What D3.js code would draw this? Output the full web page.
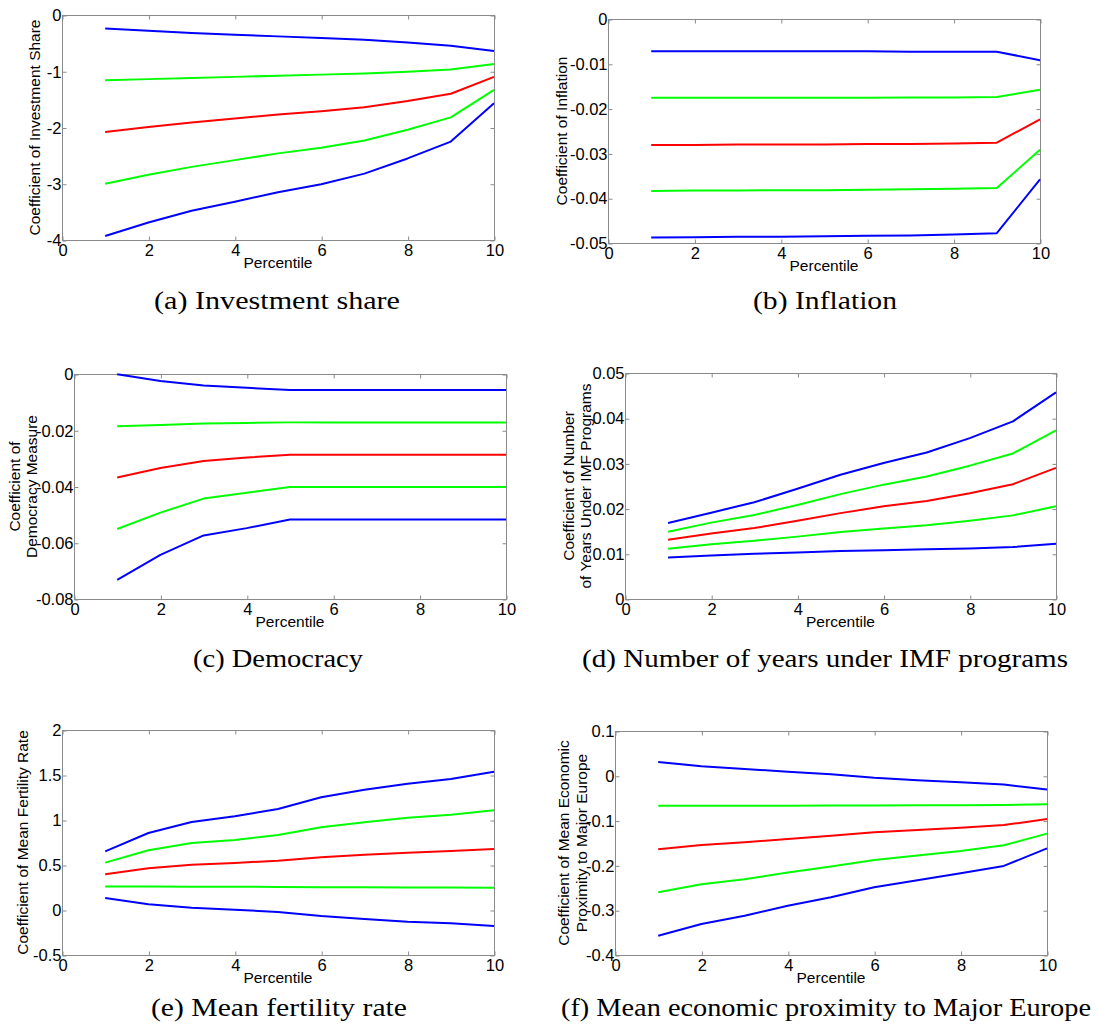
<!DOCTYPE html>
<html><head><meta charset="utf-8">
<script src="https://cdn.jsdelivr.net/npm/d3@7"></script>
<style>body{margin:0;background:#fff}svg{display:block}</style>
</head><body>
<svg id="chart" width="1097" height="1028"></svg>
<script>
// ---------- data ----------
const percentile = [1, 2, 3, 4, 5, 6, 7, 8, 9, 10];
const xTicks = [0, 2, 4, 6, 8, 10];

// (a) Investment share
const investBlueHi  = [-0.24, -0.28, -0.32, -0.35, -0.38, -0.41, -0.44, -0.49, -0.545, -0.64];
const investGreenHi = [-1.16, -1.14, -1.12, -1.10, -1.08, -1.06, -1.04, -1.01, -0.97, -0.87];
const investRed     = [-2.08, -1.99, -1.91, -1.84, -1.77, -1.71, -1.64, -1.53, -1.40, -1.10];
const investGreenLo = [-3.00, -2.84, -2.70, -2.58, -2.46, -2.36, -2.23, -2.04, -1.82, -1.33];
const investBlueLo  = [-3.93, -3.69, -3.48, -3.32, -3.15, -3.01, -2.82, -2.55, -2.25, -1.57];
const investYTicks  = [0, -1, -2, -3, -4];
const investYLabels = ["0", "-1", "-2", "-3", "-4"];

// (b) Inflation
const inflBlueHi  = [-0.0072, -0.0072, -0.0072, -0.0072, -0.0072, -0.0072, -0.0073, -0.0073, -0.0073, -0.0092];
const inflGreenHi = [-0.0176, -0.0176, -0.0176, -0.0176, -0.0176, -0.0176, -0.0175, -0.0175, -0.0174, -0.0158];
const inflRed     = [-0.0281, -0.0281, -0.0280, -0.0280, -0.0280, -0.0279, -0.0279, -0.0278, -0.0276, -0.0224];
const inflGreenLo = [-0.0384, -0.0383, -0.0383, -0.0382, -0.0382, -0.0381, -0.0380, -0.0379, -0.0377, -0.0292];
const inflBlueLo  = [-0.0488, -0.0487, -0.0486, -0.0486, -0.0485, -0.0484, -0.0483, -0.0481, -0.0478, -0.0358];
const inflYTicks  = [0, -0.01, -0.02, -0.03, -0.04, -0.05];
const inflYLabels = ["0", "-0.01", "-0.02", "-0.03", "-0.04", "-0.05"];

// (c) Democracy
const demoBlueHi  = [-0.0001, -0.0025, -0.0041, -0.0049, -0.0057, -0.0057, -0.0057, -0.0057, -0.0057, -0.0057];
const demoGreenHi = [-0.0186, -0.0181, -0.0176, -0.0174, -0.0172, -0.0172, -0.0172, -0.0172, -0.0172, -0.0172];
const demoRed     = [-0.0368, -0.0334, -0.0309, -0.0297, -0.0287, -0.0287, -0.0287, -0.0287, -0.0287, -0.0287];
const demoGreenLo = [-0.0551, -0.0493, -0.0443, -0.0422, -0.0402, -0.0402, -0.0402, -0.0402, -0.0402, -0.0402];
const demoBlueLo  = [-0.0732, -0.0643, -0.0574, -0.0548, -0.0517, -0.0517, -0.0517, -0.0517, -0.0517, -0.0517];
const demoYTicks  = [0, -0.02, -0.04, -0.06, -0.08];
const demoYLabels = ["0", "-0.02", "-0.04", "-0.06", "-0.08"];

// (d) Number of years under IMF programs
const imfBlueHi  = [0.0168, 0.0191, 0.0214, 0.0244, 0.0275, 0.0301, 0.0324, 0.0356, 0.0393, 0.0457];
const imfGreenHi = [0.0149, 0.0169, 0.0186, 0.0208, 0.0232, 0.0253, 0.0271, 0.0295, 0.0322, 0.0373];
const imfRed     = [0.0131, 0.0145, 0.0157, 0.0173, 0.0190, 0.0205, 0.0217, 0.0234, 0.0254, 0.0290];
const imfGreenLo = [0.0111, 0.0121, 0.0129, 0.0138, 0.0148, 0.0156, 0.0163, 0.0173, 0.0185, 0.0205];
const imfBlueLo  = [0.0092, 0.0096, 0.0100, 0.0103, 0.0106, 0.0108, 0.0110, 0.0112, 0.0115, 0.0122];
const imfYTicks  = [0, 0.01, 0.02, 0.03, 0.04, 0.05];
const imfYLabels = ["0", "0.01", "0.02", "0.03", "0.04", "0.05"];

// (e) Mean fertility rate
const fertBlueHi  = [0.652, 0.856, 0.978, 1.041, 1.122, 1.252, 1.337, 1.404, 1.456, 1.537];
const fertGreenHi = [0.526, 0.663, 0.744, 0.778, 0.833, 0.919, 0.974, 1.026, 1.059, 1.107];
const fertRed     = [0.396, 0.463, 0.504, 0.522, 0.548, 0.585, 0.615, 0.637, 0.656, 0.678];
const fertGreenLo = [0.260, 0.260, 0.258, 0.258, 0.256, 0.254, 0.252, 0.250, 0.249, 0.248];
const fertBlueLo  = [0.133, 0.063, 0.026, 0.004, -0.022, -0.067, -0.100, -0.130, -0.148, -0.178];
const fertYTicks  = [2, 1.5, 1, 0.5, 0, -0.5];
const fertYLabels = ["2", "1.5", "1", "0.5", "0", "-0.5"];

// (f) Mean economic proximity to Major Europe
const proxBlueHi  = [0.031, 0.0214, 0.0154, 0.0088, 0.0036, -0.0046, -0.0098, -0.0142, -0.0194, -0.0306];
const proxGreenHi = [-0.067, -0.067, -0.0668, -0.0666, -0.0664, -0.0662, -0.066, -0.0656, -0.065, -0.0635];
const proxRed     = [-0.164, -0.1545, -0.1485, -0.141, -0.1337, -0.126, -0.121, -0.116, -0.110, -0.0966];
const proxGreenLo = [-0.260, -0.242, -0.231, -0.216, -0.2027, -0.188, -0.178, -0.168, -0.155, -0.129];
const proxBlueLo  = [-0.357, -0.331, -0.3125, -0.290, -0.271, -0.2487, -0.233, -0.2175, -0.2012, -0.162];
const proxYTicks  = [0.1, 0, -0.1, -0.2, -0.3, -0.4];
const proxYLabels = ["0.1", "0", "-0.1", "-0.2", "-0.3", "-0.4"];

const captions = [
  "(a)  Investment share", "(b)  Inflation", "(c)  Democracy",
  "(d)  Number of years under IMF programs", "(e)  Mean fertility rate",
  "(f)  Mean economic proximity to Major Europe"
];
const yTitles = [
  ["Coefficient of Investment Share"],
  ["Coefficient of Inflation"],
  ["Coefficient of", "Democracy Measure"],
  ["Coefficient of Number", "of Years Under IMF Programs"],
  ["Coefficient of Mean Fertility Rate"],
  ["Coefficient of Mean Economic", "Proximity to Major Europe"]
];
const xTitle = "Percentile";

// ---------- layout / style ----------
const seriesColors = ["#0000ff", "#00ff00", "#ff0000", "#00ff00", "#0000ff"];
const panels = [
  {series: [investBlueHi, investGreenHi, investRed, investGreenLo, investBlueLo], yDom: [-4, 0], yT: investYTicks, yL: investYLabels,
   box: {l: 62, r: 494, t: 15, b: 240}, ytx: [35], cap: {x: 277, y: 309, w: 246}},
  {series: [inflBlueHi, inflGreenHi, inflRed, inflGreenLo, inflBlueLo], yDom: [-0.05, 0], yT: inflYTicks, yL: inflYLabels,
   box: {l: 608, r: 1040, t: 19, b: 243}, ytx: [562], cap: {x: 825, y: 309, w: 144}},
  {series: [demoBlueHi, demoGreenHi, demoRed, demoGreenLo, demoBlueLo], yDom: [-0.08, 0], yT: demoYTicks, yL: demoYLabels,
   box: {l: 74, r: 506, t: 374, b: 599}, ytx: [15, 32], cap: {x: 278, y: 667, w: 170}},
  {series: [imfBlueHi, imfGreenHi, imfRed, imfGreenLo, imfBlueLo], yDom: [0, 0.05], yT: imfYTicks, yL: imfYLabels,
   box: {l: 625, r: 1056, t: 373, b: 599}, ytx: [568.5, 586], cap: {x: 825, y: 667, w: 486}},
  {series: [fertBlueHi, fertGreenHi, fertRed, fertGreenLo, fertBlueLo], yDom: [-0.5, 2], yT: fertYTicks, yL: fertYLabels,
   box: {l: 62, r: 494, t: 730, b: 955}, ytx: [23], cap: {x: 279, y: 1016, w: 256}},
  {series: [proxBlueHi, proxGreenHi, proxRed, proxGreenLo, proxBlueLo], yDom: [-0.4, 0.1], yT: proxYTicks, yL: proxYLabels,
   box: {l: 615, r: 1047, t: 731, b: 955}, ytx: [563.5, 581.5], cap: {x: 826, y: 1016, w: 530}}
];

const svg = d3.select("#chart");
const sans = "'Liberation Sans', Arial, Helvetica, sans-serif";
const axisGray = "#8a8a8a";

panels.forEach((p, i) => {
  const {l, r, t, b} = p.box;
  const x = d3.scaleLinear().domain([0, 10]).range([l, r]);
  const y = d3.scaleLinear().domain(p.yDom).range([b, t]);
  const g = svg.append("g");

  g.append("rect").attr("x", l + 0.5).attr("y", t + 0.5).attr("width", r - l).attr("height", b - t)
    .attr("fill", "none").attr("stroke", axisGray).attr("stroke-width", 1);

  const styleAxis = sel => {
    sel.select(".domain").remove();
    sel.selectAll(".tick line").attr("stroke", axisGray);
    sel.selectAll(".tick text").attr("fill", "#000").style("font-family", sans).style("font-size", "16.5px");
  };

  g.append("g").attr("transform", `translate(0.5,${b + 0.5})`)
    .call(d3.axisBottom(x).tickValues(xTicks).tickFormat(d3.format("d")).tickSizeInner(-4).tickSizeOuter(0).tickPadding(4))
    .call(styleAxis);
  g.append("g").attr("transform", `translate(0.5,${t + 0.5})`)
    .call(d3.axisTop(x).tickValues(xTicks).tickFormat("").tickSizeInner(-4).tickSizeOuter(0))
    .call(styleAxis);
  g.append("g").attr("transform", `translate(${l + 0.5},0.5)`)
    .call(d3.axisLeft(y).tickValues(p.yT).tickFormat((d, k) => p.yL[k]).tickSizeInner(-4).tickSizeOuter(0).tickPadding(1))
    .call(styleAxis);
  g.append("g").attr("transform", `translate(${r + 0.5},0.5)`)
    .call(d3.axisRight(y).tickValues(p.yT).tickFormat("").tickSizeInner(-4).tickSizeOuter(0))
    .call(styleAxis);

  const line = d3.line().x((d, k) => x(percentile[k])).y(d => y(d));
  p.series.forEach((s, k) => {
    g.append("path").datum(s).attr("d", line).attr("fill", "none")
      .attr("stroke", seriesColors[k]).attr("stroke-width", 2).attr("stroke-linejoin", "round");
  });

  g.append("text").attr("x", (l + r) / 2).attr("y", b + 28).attr("text-anchor", "middle")
    .style("font-family", sans).style("font-size", "15.5px").attr("fill", "#000").text(xTitle);

  const yc = (t + b) / 2;
  yTitles[i].forEach((txt, k) => {
    g.append("text").attr("transform", `translate(${p.ytx[k]},${yc}) rotate(-90)`)
      .attr("text-anchor", "middle").attr("dy", "0.35em")
      .style("font-family", sans).style("font-size", "15.5px").attr("fill", "#000").text(txt);
  });

  svg.append("text").attr("x", p.cap.x).attr("y", p.cap.y).attr("text-anchor", "middle")
    .attr("textLength", p.cap.w).attr("lengthAdjust", "spacingAndGlyphs")
    .style("font-family", "'Liberation Serif', 'Times New Roman', serif").style("font-size", "25px")
    .attr("fill", "#000").text(captions[i]);
});
</script>
</body></html>
